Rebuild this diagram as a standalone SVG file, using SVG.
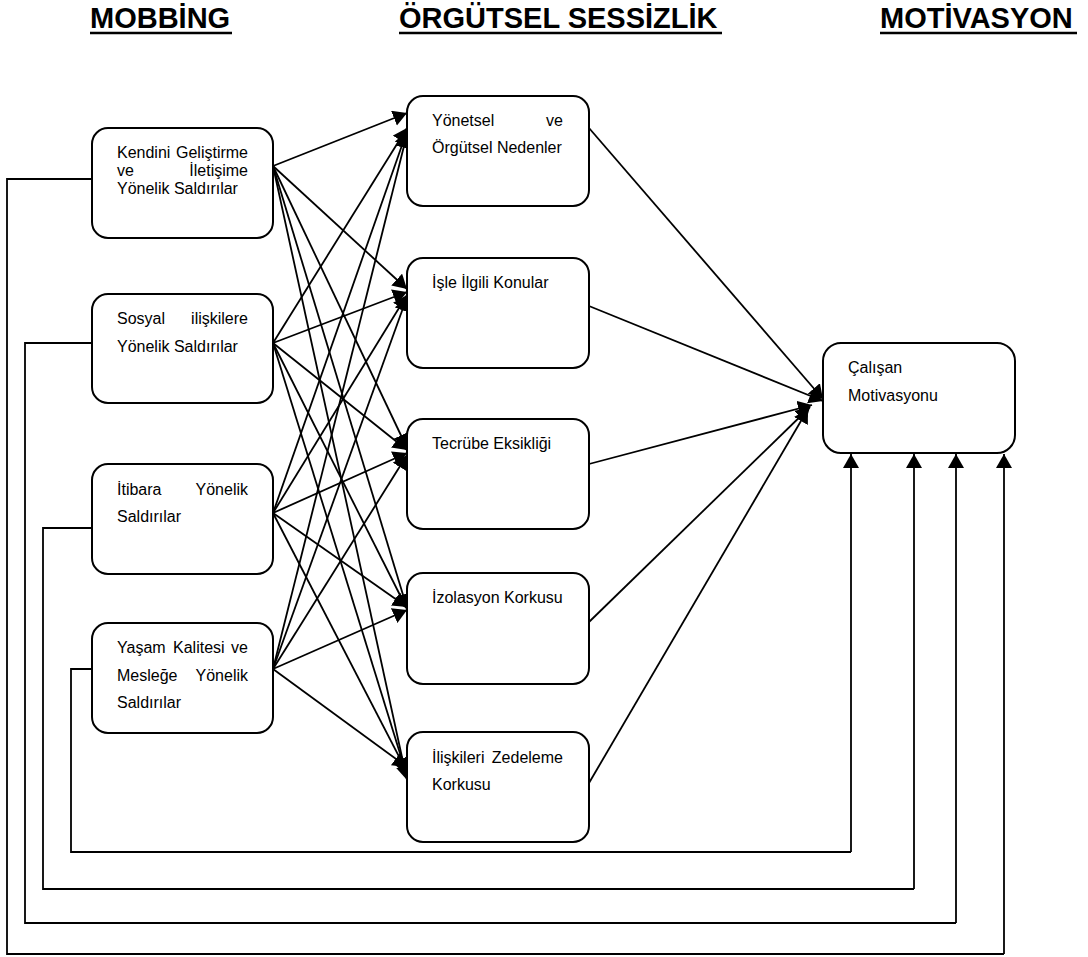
<svg xmlns="http://www.w3.org/2000/svg" width="1088" height="957" viewBox="0 0 1088 957">
  <style>
    .box { fill: #ffffff; stroke: #000000; stroke-width: 2; }
    .lbl { font-family: "Liberation Sans", Arial, sans-serif; font-size: 16px; fill: #000000; }
    .end { text-anchor: end; }
    .hdr { font-family: "Liberation Sans", Arial, sans-serif; font-size: 29px; font-weight: bold; fill: #000000; }
    .uline { stroke: #000000; stroke-width: 2.6; }
    .arrow { fill: none; stroke: #000000; stroke-width: 1.8; marker-end: url(#head); }
    .loop { fill: none; stroke: #000000; stroke-width: 1.8; }
  </style>
  <defs>
    <marker id="head" markerUnits="userSpaceOnUse" markerWidth="18" markerHeight="18" viewBox="0 0 18 18" refX="14" refY="8" orient="auto">
      <path d="M0,0 L14,8 L0,16 z" fill="#000000"/>
    </marker>
  </defs>
  <rect width="1088" height="957" fill="#ffffff"/>

  <!-- column headings -->
  <g id="headings">
    <text class="hdr" x="90" y="28">MOBBİNG</text>
    <line class="uline" x1="90" y1="33" x2="232" y2="33"/>
    <text class="hdr" x="399" y="28">ÖRGÜTSEL SESSİZLİK</text>
    <line class="uline" x1="399" y1="33" x2="722" y2="33"/>
    <text class="hdr" x="880" y="28">MOTİVASYON</text>
    <line class="uline" x1="880" y1="33" x2="1077" y2="33"/>
  </g>

  <!-- connectors -->
  <g id="connectors">
    <!-- mobbing sources to silence factors -->
    <path class="arrow" d="M273,166 L407,113"/>
    <path class="arrow" d="M273,166 L407,289"/>
    <path class="arrow" d="M273,166 L407,448"/>
    <path class="arrow" d="M273,166 L407,608"/>
    <path class="arrow" d="M273,166 L407,780"/>

    <path class="arrow" d="M273,343 L407,128"/>
    <path class="arrow" d="M273,343 L407,292"/>
    <path class="arrow" d="M273,343 L407,450"/>
    <path class="arrow" d="M273,343 L407,609"/>
    <path class="arrow" d="M273,343 L407,776"/>

    <path class="arrow" d="M273,513 L407,131"/>
    <path class="arrow" d="M273,513 L407,295"/>
    <path class="arrow" d="M273,513 L407,453"/>
    <path class="arrow" d="M273,513 L407,607"/>
    <path class="arrow" d="M273,513 L407,772"/>

    <path class="arrow" d="M273,669 L407,134"/>
    <path class="arrow" d="M273,669 L407,297"/>
    <path class="arrow" d="M273,669 L407,455"/>
    <path class="arrow" d="M273,669 L407,610"/>
    <path class="arrow" d="M273,669 L407,767"/>

    <!-- silence factors to motivation -->
    <path class="arrow" d="M589,128 L823,399"/>
    <path class="arrow" d="M589,306 L823,401"/>
    <path class="arrow" d="M589,464 L812,405"/>
    <path class="arrow" d="M589,622 L810,407"/>
    <path class="arrow" d="M589,783 L808,409"/>

    <!-- direct links from mobbing to motivation -->
    <path class="loop" d="M92,179 L7,179 L7,954 L1004,954"/>
    <path class="arrow" d="M1004,954 L1004,454"/>
    <path class="loop" d="M92,343 L25,343 L25,923 L956,923"/>
    <path class="arrow" d="M956,923 L956,454"/>
    <path class="loop" d="M92,528 L43,528 L43,889 L914,889"/>
    <path class="arrow" d="M914,889 L914,454"/>
    <path class="loop" d="M92,669 L71,669 L71,852 L851,852"/>
    <path class="arrow" d="M851,852 L851,454"/>
  </g>

  <!-- mobbing nodes -->
  <g id="m1">
    <rect class="box" x="92" y="128" width="181" height="110" rx="16"/>
    <text class="lbl" y="158"><tspan x="117">Kendini</tspan> <tspan class="end" x="248">Geliştirme</tspan></text>
    <text class="lbl" y="176"><tspan x="117">ve</tspan> <tspan class="end" x="248">İletişime</tspan></text>
    <text class="lbl" x="117" y="194">Yönelik Saldırılar</text>
  </g>
  <g id="m2">
    <rect class="box" x="92" y="294" width="181" height="109" rx="16"/>
    <text class="lbl" y="324"><tspan x="117">Sosyal</tspan> <tspan class="end" x="248">ilişkilere</tspan></text>
    <text class="lbl" x="117" y="352">Yönelik Saldırılar</text>
  </g>
  <g id="m3">
    <rect class="box" x="92" y="464" width="181" height="110" rx="16"/>
    <text class="lbl" y="495"><tspan x="117">İtibara</tspan> <tspan class="end" x="248">Yönelik</tspan></text>
    <text class="lbl" x="117" y="522">Saldırılar</text>
  </g>
  <g id="m4">
    <rect class="box" x="92" y="623" width="181" height="110" rx="16"/>
    <text class="lbl" y="653"><tspan x="117">Yaşam</tspan> <tspan x="173">Kalitesi</tspan> <tspan class="end" x="248">ve</tspan></text>
    <text class="lbl" y="681"><tspan x="117">Mesleğe</tspan> <tspan class="end" x="248">Yönelik</tspan></text>
    <text class="lbl" x="117" y="708">Saldırılar</text>
  </g>

  <!-- organisational silence nodes -->
  <g id="s1">
    <rect class="box" x="407" y="96" width="182" height="110" rx="16"/>
    <text class="lbl" y="126"><tspan x="432">Yönetsel</tspan> <tspan class="end" x="563">ve</tspan></text>
    <text class="lbl" x="432" y="153">Örgütsel Nedenler</text>
  </g>
  <g id="s2">
    <rect class="box" x="407" y="258" width="182" height="110" rx="16"/>
    <text class="lbl" x="432" y="288">İşle İlgili Konular</text>
  </g>
  <g id="s3">
    <rect class="box" x="407" y="419" width="182" height="110" rx="16"/>
    <text class="lbl" x="432" y="449">Tecrübe Eksikliği</text>
  </g>
  <g id="s4">
    <rect class="box" x="407" y="573" width="182" height="111" rx="16"/>
    <text class="lbl" x="432" y="603">İzolasyon Korkusu</text>
  </g>
  <g id="s5">
    <rect class="box" x="407" y="732" width="182" height="110" rx="16"/>
    <text class="lbl" y="763"><tspan x="432">İlişkileri</tspan> <tspan class="end" x="563">Zedeleme</tspan></text>
    <text class="lbl" x="432" y="790">Korkusu</text>
  </g>

  <!-- motivation node -->
  <g id="motivation">
    <rect class="box" x="823" y="343" width="192" height="110" rx="18"/>
    <text class="lbl" x="848" y="373">Çalışan</text>
    <text class="lbl" x="848" y="401">Motivasyonu</text>
  </g>
</svg>
